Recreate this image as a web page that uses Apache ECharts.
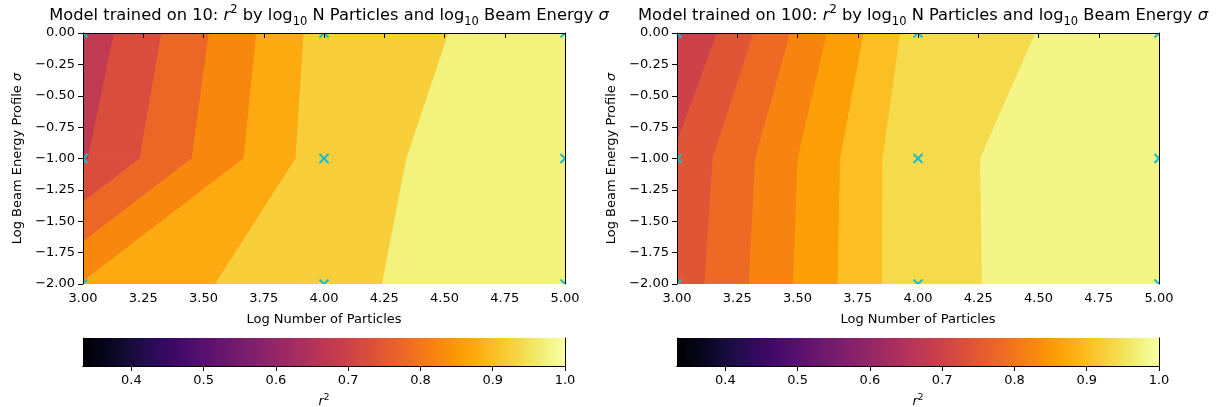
<!DOCTYPE html>
<html><head><meta charset="utf-8">
<script src="https://cdn.jsdelivr.net/npm/echarts@6/dist/echarts.min.js"></script>
<style>html,body{margin:0;padding:0;background:#fff}#c{width:1218px;height:407px}</style>
</head><body><div id="c"></div>
<script>
// ---- data ----
const xGrid = [3, 4, 5];          // log10 N particles
const yGrid = [-2, -1, 0];        // log10 beam energy sigma
// rows follow yGrid (-2, -1, 0), columns follow xGrid (3, 4, 5)
const r2Model10 = [
  [0.853, 0.9385, 0.986],
  [0.695, 0.927, 0.994],
  [0.667, 0.921, 0.977]
];
const r2Model100 = [
  [0.735, 0.952, 0.982],
  [0.726, 0.953, 0.980],
  [0.676, 0.939, 0.982]
];
const levels10 = [0.65, 0.70, 0.75, 0.80, 0.85, 0.90, 0.95, 1.00];
const levels100 = [0.64, 0.68, 0.72, 0.76, 0.80, 0.84, 0.88, 0.92, 0.96, 1.00];
const titles = ['10', '100'];
const xTicks = [3, 3.25, 3.5, 3.75, 4, 4.25, 4.5, 4.75, 5];
const yTicks = [-2, -1.75, -1.5, -1.25, -1, -0.75, -0.5, -0.25, 0];
const cbarTicks = [0.4, 0.5, 0.6, 0.7, 0.8, 0.9, 1.0];
const vmin = 0.333, vmax = 1.0;

// ---- inferno colormap ----
const INF = "00000401000501010601010802010a02020c02020e03021004031204031405041706041907051b08051d09061f0a07220b07240c08260d08290e092b10092d110a30120a32140b34150b37160b39180c3c190c3e1b0c411c0c431e0c451f0c48210c4a230c4c240c4f260c51280b53290b552b0b572d0b592f0a5b310a5c320a5e340a5f3609613809623909633b09643d09653e0966400a67420a68440a68450a69470b6a490b6a4a0c6b4c0c6b4d0d6c4f0d6c510e6c520e6d540f6d550f6d57106e59106e5a116e5c126e5d126e5f136e61136e62146e64156e65156e67166e69166e6a176e6c186e6d186e6f196e71196e721a6e741a6e751b6e771c6d781c6d7a1d6d7c1d6d7d1e6d7f1e6c801f6c82206c84206b85216b87216b88226a8a226a8c23698d23698f24699025689225689326679526679727669827669a28659b29649d29649f2a63a02a63a22b62a32c61a52c60a62d60a82e5fa92e5eab2f5ead305dae305cb0315bb1325ab3325ab43359b63458b73557b93556ba3655bc3754bd3853bf3952c03a51c13a50c33b4fc43c4ec63d4dc73e4cc83f4bca404acb4149cc4248ce4347cf4446d04545d24644d34743d44842d54a41d74b3fd84c3ed94d3dda4e3cdb503bdd513ade5238df5337e05536e15635e25734e35933e45a31e55c30e65d2fe75e2ee8602de9612bea632aeb6429eb6628ec6726ed6925ee6a24ef6c23ef6e21f06f20f1711ff1731df2741cf3761bf37819f47918f57b17f57d15f67e14f68013f78212f78410f8850ff8870ef8890cf98b0bf98c0af98e09fa9008fa9207fa9407fb9606fb9706fb9906fb9b06fb9d07fc9f07fca108fca309fca50afca60cfca80dfcaa0ffcac11fcae12fcb014fcb216fcb418fbb61afbb81dfbba1ffbbc21fbbe23fac026fac228fac42afac62df9c72ff9c932f9cb35f8cd37f8cf3af7d13df7d340f6d543f6d746f5d949f5db4cf4dd4ff4df53f4e156f3e35af3e55df2e661f2e865f2ea69f1ec6df1ed71f1ef75f1f179f2f27df2f482f3f586f3f68af4f88ef5f992f6fa96f8fb9af9fc9dfafda1fcffa4";
const INFC = [];
for (let i = 0; i + 6 <= INF.length; i += 6) INFC.push('#' + INF.substr(i, 6));
function cmap(t) {
  t = Math.max(0, Math.min(1, t));
  return INFC[Math.round(t * (INFC.length - 1))];
}

// ---- filled contour bands (marching squares, straight segments per cell) ----
function bandPolys(Z, levels) {
  const polys = [];
  const nb = levels.length - 1;
  for (let j = 0; j < yGrid.length - 1; j++) for (let i = 0; i < xGrid.length - 1; i++) {
    const c = [
      [xGrid[i], yGrid[j], Z[j][i]],
      [xGrid[i + 1], yGrid[j], Z[j][i + 1]],
      [xGrid[i + 1], yGrid[j + 1], Z[j + 1][i + 1]],
      [xGrid[i], yGrid[j + 1], Z[j + 1][i]]
    ];
    for (let b = 0; b < nb; b++) {
      const lo = levels[b], hi = levels[b + 1];
      const inBand = v => v >= lo && (b === nb - 1 ? v <= hi : v < hi);
      const pts = [];
      for (let k = 0; k < 4; k++) {
        const A = c[k], B = c[(k + 1) % 4];
        if (inBand(A[2])) pts.push([A[0], A[1]]);
        const ts = [];
        [lo, hi].forEach(L => {
          if ((A[2] < L && B[2] > L) || (A[2] > L && B[2] < L)) ts.push((L - A[2]) / (B[2] - A[2]));
        });
        ts.sort((a, b2) => a - b2);
        ts.forEach(t => pts.push([A[0] + t * (B[0] - A[0]), A[1] + t * (B[1] - A[1])]));
      }
      if (pts.length >= 3) polys.push({ pts, color: cmap(((lo + hi) / 2 - vmin) / (vmax - vmin)) });
    }
  }
  return polys;
}

const FONT = 'DejaVu Sans';
const panels = [
  { Z: r2Model10, levels: levels10, left: 83 },
  { Z: r2Model100, levels: levels100, left: 677 }
];
const PW = 482, PT = 33, PH = 251, CT = 338, CH = 28;

const grid = [], xAxis = [], yAxis = [], series = [], title = [];
const gridPoints = [];
xGrid.forEach(x => yGrid.forEach(y => gridPoints.push([x, y])));
const lineAx = { show: true, lineStyle: { color: '#000', width: 1 } };
const fmtNum = (v, d) => (v < 0 ? '\u2212' : '') + Math.abs(v).toFixed(d);

panels.forEach((p, k) => {
  const g0 = grid.length;
  grid.push({ left: p.left, top: PT, width: PW, height: PH, outerBoundsMode: 'none', containLabel: false });
  grid.push({ left: p.left, top: CT, width: PW, height: CH, outerBoundsMode: 'none', containLabel: false });
  const xa = xAxis.length, ya = yAxis.length;
  // main plot axes
  xAxis.push({
    gridIndex: g0, type: 'value', min: 3, max: 5, interval: 0.25, position: 'bottom', z: 5,
    axisLine: lineAx, axisTick: { show: true, length: 5, lineStyle: { color: '#000' } },
    axisLabel: { margin: 8, color: '#000', fontFamily: FONT, fontSize: 13, formatter: v => fmtNum(v, 2) },
    splitLine: { show: false },
    name: 'Log Number of Particles', nameLocation: 'middle', nameGap: 29,
    nameTextStyle: { color: '#000', fontFamily: FONT, fontSize: 13 }
  });
  xAxis.push({ gridIndex: g0, type: 'value', min: 3, max: 5, position: 'top', z: 5, axisLine: lineAx,
    axisTick: { show: false }, axisLabel: { show: false }, splitLine: { show: false } });
  yAxis.push({
    gridIndex: g0, type: 'value', min: -2, max: 0, interval: 0.25, position: 'left', z: 5,
    axisLine: lineAx, axisTick: { show: true, length: 5, lineStyle: { color: '#000' } },
    axisLabel: { margin: 8, color: '#000', fontFamily: FONT, fontSize: 13, formatter: v => fmtNum(v, 2) },
    splitLine: { show: false },
    name: 'Log Beam Energy Profile {i|σ}', nameLocation: 'middle', nameGap: 59,
    nameTextStyle: { color: '#000', fontFamily: FONT, fontSize: 13,
      rich: { i: { fontStyle: 'italic', fontFamily: FONT, fontSize: 13, color: '#000' } } }
  });
  yAxis.push({ gridIndex: g0, type: 'value', min: -2, max: 0, position: 'right', z: 5, axisLine: lineAx,
    axisTick: { show: false }, axisLabel: { show: false }, splitLine: { show: false } });
  // colorbar axes
  xAxis.push({
    gridIndex: g0 + 1, type: 'value', min: vmin, max: vmax, position: 'bottom', z: 5,
    axisLine: lineAx,
    axisTick: { show: true, length: 5, customValues: cbarTicks, lineStyle: { color: '#000' } },
    axisLabel: { margin: 8, color: '#000', fontFamily: FONT, fontSize: 13, customValues: cbarTicks, formatter: v => v.toFixed(1) },
    splitLine: { show: false },
    name: '{i|r}{sup|2}', nameLocation: 'middle', nameGap: 27,
    nameTextStyle: { color: '#000', fontFamily: FONT, fontSize: 13, lineHeight: 18,
      rich: { i: { fontStyle: 'italic', fontFamily: FONT, fontSize: 13, color: '#000', lineHeight: 18 },
              sup: { fontFamily: FONT, fontSize: 9, color: '#000', verticalAlign: 'top', lineHeight: 9 } } }
  });
  xAxis.push({ gridIndex: g0 + 1, type: 'value', min: vmin, max: vmax, position: 'top', z: 5, axisLine: lineAx,
    axisTick: { show: false }, axisLabel: { show: false }, splitLine: { show: false } });
  yAxis.push({ gridIndex: g0 + 1, type: 'value', min: 0, max: 1, position: 'left', z: 5, axisLine: lineAx,
    axisTick: { show: false }, axisLabel: { show: false }, splitLine: { show: false } });
  yAxis.push({ gridIndex: g0 + 1, type: 'value', min: 0, max: 1, position: 'right', z: 5, axisLine: lineAx,
    axisTick: { show: false }, axisLabel: { show: false }, splitLine: { show: false } });

  const polys = bandPolys(p.Z, p.levels);
  series.push({
    type: 'custom', xAxisIndex: xa, yAxisIndex: ya, clip: true, silent: true, z: 2,
    data: polys.map(q => q.pts[0]),
    encode: { x: 0, y: 1 },
    renderItem: (params, api) => {
      const q = polys[params.dataIndex];
      return { type: 'polygon', shape: { points: q.pts.map(pt => api.coord(pt)) },
        style: { fill: q.color, stroke: q.color, lineWidth: 0.8 } };
    }
  });
  series.push({
    type: 'custom', xAxisIndex: xa, yAxisIndex: ya, clip: true, silent: true, z: 3,
    data: gridPoints, encode: { x: 0, y: 1 },
    renderItem: (params, api) => {
      const c = api.coord([api.value(0), api.value(1)]);
      const s = 4.5;
      const st = { stroke: '#17becf', lineWidth: 2 };
      return { type: 'group', children: [
        { type: 'line', shape: { x1: c[0] - s, y1: c[1] - s, x2: c[0] + s, y2: c[1] + s }, style: st },
        { type: 'line', shape: { x1: c[0] - s, y1: c[1] + s, x2: c[0] + s, y2: c[1] - s }, style: st }
      ] };
    }
  });
  // colorbar
  series.push({
    type: 'custom', xAxisIndex: xa + 2, yAxisIndex: ya + 2, clip: true, silent: true, z: 2,
    data: [[vmin, 0]], encode: { x: 0, y: 1 },
    renderItem: (params, api) => {
      const p0 = api.coord([vmin, 0]), p1 = api.coord([vmax, 1]);
      const stops = [];
      for (let i = 0; i <= 64; i++) stops.push({ offset: i / 64, color: cmap(i / 64) });
      return { type: 'rect', shape: { x: p0[0], y: p1[1], width: p1[0] - p0[0], height: p0[1] - p1[1] },
        style: { fill: new echarts.graphic.LinearGradient(0, 0, 1, 0, stops) } };
    }
  });
  title.push({
    text: 'Model trained on ' + titles[k] + ': {i|r}{sup|2} by log{sub|10} N Particles and log{sub|10} Beam Energy {i|σ}',
    left: p.left + PW / 2, textAlign: 'center', top: -1,
    textStyle: { fontFamily: FONT, fontSize: 16.3, fontWeight: 'normal', color: '#000', lineHeight: 24,
      rich: {
        i: { fontStyle: 'italic', fontFamily: FONT, fontSize: 16.3, color: '#000', lineHeight: 24 },
        sup: { fontFamily: FONT, fontSize: 11.5, color: '#000', verticalAlign: 'top', lineHeight: 12 },
        sub: { fontFamily: FONT, fontSize: 11.5, color: '#000', verticalAlign: 'bottom', lineHeight: 12 }
      } }
  });
});

const chart = echarts.init(document.getElementById('c'), null, { renderer: 'canvas' });
chart.setOption({ animation: false, backgroundColor: '#fff', title, grid, xAxis, yAxis, series });
</script></body></html>
